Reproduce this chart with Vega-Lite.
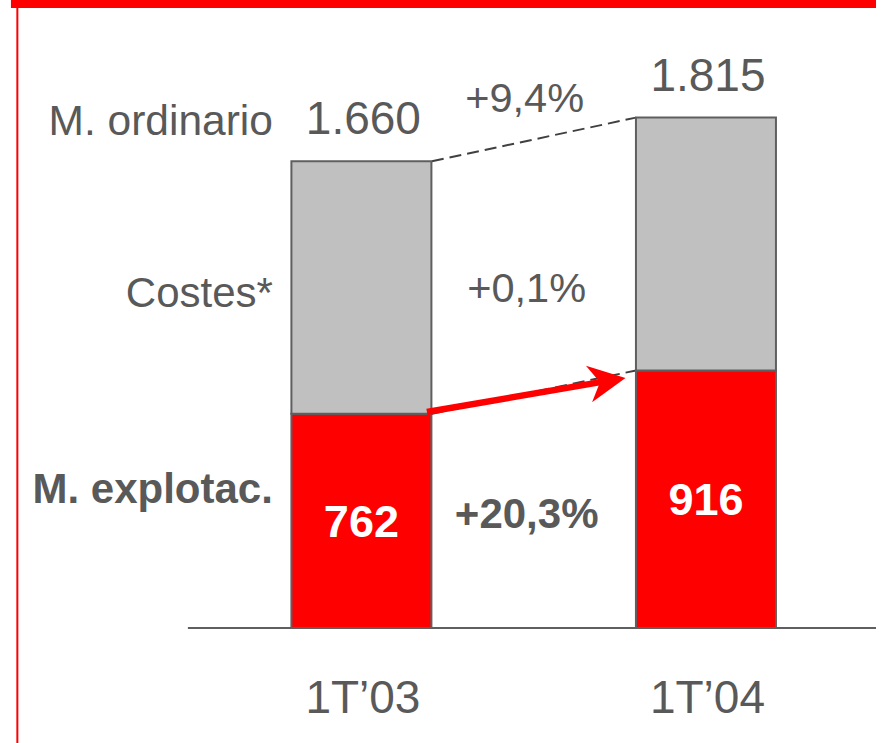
{
  "$schema": "https://vega.github.io/schema/vega-lite/v6.json",
  "width": 881,
  "height": 743,
  "autosize": {"type": "none"},
  "padding": 0,
  "background": "white",
  "config": {
    "view": {"stroke": null},
    "locale": {"number": {"decimal": ",", "thousands": ".", "grouping": [3], "currency": ["", " €"]}},
    "text": {"font": "Liberation Sans", "color": "#595959", "baseline": "alphabetic"}
  },
  "datasets": {
    "barras": [
      {"periodo": "1T’03", "pos": 1, "serie": "M. explotac.", "valor": 762},
      {"periodo": "1T’03", "pos": 1, "serie": "Costes*", "valor": 898},
      {"periodo": "1T’04", "pos": 2, "serie": "M. explotac.", "valor": 916},
      {"periodo": "1T’04", "pos": 2, "serie": "Costes*", "valor": 899}
    ],
    "totales": [
      {"periodo": "1T’03", "pos": 1, "valor": 1660},
      {"periodo": "1T’04", "pos": 2, "valor": 1815}
    ],
    "tramos": [
      {"concepto": "M. ordinario", "desde": 1660, "hasta": 1815, "var": 0.094},
      {"concepto": "Costes*", "desde": 898, "hasta": 899, "var": 0.001},
      {"concepto": "M. explotac.", "desde": 762, "hasta": 916, "var": 0.203}
    ]
  },
  "layer": [
    {
      "data": {"values": [{}]},
      "mark": {"type": "rect", "color": "#FF0000"},
      "encoding": {
        "x": {"datum": -0.0172, "type": "quantitative", "scale": {"domain": [-0.03443, 2.49355], "nice": false, "zero": false}, "axis": null},
        "x2": {"datum": 2.49355},
        "y": {"datum": 2233.3, "type": "quantitative", "scale": {"domain": [-409, 2233.3], "nice": false, "zero": false}, "axis": null},
        "y2": {"datum": 2204.8}
      }
    },
    {
      "data": {"values": [{}]},
      "mark": {"type": "rule", "color": "#FF0000", "strokeWidth": 2},
      "encoding": {
        "x": {"datum": 0.0014, "type": "quantitative", "scale": {"domain": [-0.03443, 2.49355], "nice": false, "zero": false}, "axis": null},
        "y": {"datum": 2204.8, "type": "quantitative", "scale": {"domain": [-409, 2233.3], "nice": false, "zero": false}, "axis": null},
        "y2": {"datum": -409}
      }
    },
    {
      "data": {"values": [{}]},
      "mark": {"type": "rule", "color": "#5F5F5F", "strokeWidth": 2},
      "encoding": {
        "x": {"datum": 0.4964, "type": "quantitative", "scale": {"domain": [-0.03443, 2.49355], "nice": false, "zero": false}, "axis": null},
        "x2": {"datum": 2.49355},
        "y": {"datum": 0, "type": "quantitative", "scale": {"domain": [-409, 2233.3], "nice": false, "zero": false}, "axis": null}
      }
    },
    {
      "data": {"name": "tramos"},
      "transform": [{"filter": "datum.concepto !== 'Costes*'"}],
      "mark": {"type": "rule", "color": "#404040", "strokeWidth": 2, "strokeDash": [12, 6], "xOffset": 70.5, "x2Offset": -70},
      "encoding": {
        "x": {"datum": 1, "type": "quantitative", "scale": {"domain": [-0.03443, 2.49355], "nice": false, "zero": false}, "axis": null},
        "x2": {"datum": 2},
        "y": {"field": "desde", "type": "quantitative", "scale": {"domain": [-409, 2233.3], "nice": false, "zero": false}, "axis": null},
        "y2": {"field": "hasta"}
      }
    },
    {
      "data": {"name": "barras"},
      "mark": {"type": "bar", "width": 140, "stroke": "#5F5F5F", "strokeWidth": 2, "opacity": 1},
      "encoding": {
        "x": {"field": "pos", "type": "quantitative", "scale": {"domain": [-0.03443, 2.49355], "nice": false, "zero": false}, "axis": null},
        "y": {"field": "valor", "type": "quantitative", "stack": "zero", "scale": {"domain": [-409, 2233.3], "nice": false, "zero": false}, "axis": null},
        "color": {"field": "serie", "type": "nominal", "scale": {"domain": ["M. explotac.", "Costes*"], "range": ["#FF0000", "#C0C0C0"]}, "legend": null},
        "order": {"field": "serie", "sort": "descending"}
      }
    },
    {
      "data": {"name": "tramos"},
      "transform": [{"filter": "datum.concepto === 'M. explotac.'"}],
      "mark": {"type": "rule", "color": "#FF0000", "strokeWidth": 6.5, "strokeCap": "butt", "xOffset": 65.5, "x2Offset": -104, "yOffset": -1.7, "y2Offset": 11.5},
      "encoding": {
        "x": {"datum": 1, "type": "quantitative", "scale": {"domain": [-0.03443, 2.49355], "nice": false, "zero": false}, "axis": null},
        "x2": {"datum": 2},
        "y": {"field": "desde", "type": "quantitative", "scale": {"domain": [-409, 2233.3], "nice": false, "zero": false}, "axis": null},
        "y2": {"field": "hasta"}
      }
    },
    {
      "data": {"name": "tramos"},
      "transform": [{"filter": "datum.concepto === 'M. explotac.'"}],
      "mark": {"type": "point", "shape": "M1,0L-1,-1L-0.4,0L-1,1Z", "size": 1369, "angle": -9.55, "filled": true, "color": "#FF0000", "opacity": 1, "strokeWidth": 0, "xOffset": -98.7, "yOffset": 10.6},
      "encoding": {
        "x": {"datum": 2, "type": "quantitative", "scale": {"domain": [-0.03443, 2.49355], "nice": false, "zero": false}, "axis": null},
        "y": {"field": "hasta", "type": "quantitative", "scale": {"domain": [-409, 2233.3], "nice": false, "zero": false}, "axis": null}
      }
    },
    {
      "data": {"name": "barras"},
      "mark": {"type": "text", "fontSize": 45, "fontWeight": "bold", "color": "#FFFFFF", "align": "center", "dy": 16},
      "encoding": {
        "x": {"field": "pos", "type": "quantitative", "scale": {"domain": [-0.03443, 2.49355], "nice": false, "zero": false}, "axis": null},
        "y": {"field": "valor", "type": "quantitative", "stack": "zero", "bandPosition": 0.5, "scale": {"domain": [-409, 2233.3], "nice": false, "zero": false}, "axis": null},
        "detail": {"field": "serie"},
        "order": {"field": "serie", "sort": "descending"},
        "text": {"condition": {"test": "datum.serie === 'M. explotac.'", "field": "valor", "type": "quantitative", "format": ",d"}, "value": ""}
      }
    },
    {
      "data": {"name": "totales"},
      "mark": {"type": "text", "fontSize": 46, "align": "center", "dy": -27, "dx": 2},
      "encoding": {
        "x": {"field": "pos", "type": "quantitative", "scale": {"domain": [-0.03443, 2.49355], "nice": false, "zero": false}, "axis": null},
        "y": {"field": "valor", "type": "quantitative", "scale": {"domain": [-409, 2233.3], "nice": false, "zero": false}, "axis": null},
        "text": {"field": "valor", "type": "quantitative", "format": ",d"}
      }
    },
    {
      "data": {"name": "totales"},
      "mark": {"type": "text", "fontSize": 46, "align": "center", "dy": 85, "dx": 1.5},
      "encoding": {
        "x": {"field": "pos", "type": "quantitative", "scale": {"domain": [-0.03443, 2.49355], "nice": false, "zero": false}, "axis": null},
        "y": {"datum": 0, "type": "quantitative", "scale": {"domain": [-409, 2233.3], "nice": false, "zero": false}, "axis": null},
        "text": {"field": "periodo", "type": "nominal"}
      }
    },
    {
      "data": {"name": "tramos"},
      "transform": [{"filter": "datum.concepto === 'M. ordinario'"}],
      "layer": [
        {
          "mark": {"type": "text", "fontSize": 42.5, "align": "right", "dx": -88.5, "dy": -26},
          "encoding": {
            "x": {"datum": 1, "type": "quantitative", "scale": {"domain": [-0.03443, 2.49355], "nice": false, "zero": false}, "axis": null},
            "y": {"field": "desde", "type": "quantitative", "scale": {"domain": [-409, 2233.3], "nice": false, "zero": false}, "axis": null},
            "text": {"field": "concepto", "type": "nominal"}
          }
        },
        {
          "mark": {"type": "text", "fontSize": 41.5, "align": "center", "dx": -9, "dy": -27},
          "encoding": {
            "x": {"datum": 1.5, "type": "quantitative", "scale": {"domain": [-0.03443, 2.49355], "nice": false, "zero": false}, "axis": null},
            "y": {"datum": 1737.5, "type": "quantitative", "scale": {"domain": [-409, 2233.3], "nice": false, "zero": false}, "axis": null},
            "text": {"field": "var", "type": "quantitative", "format": "+.1%"}
          }
        }
      ]
    },
    {
      "data": {"name": "tramos"},
      "transform": [{"filter": "datum.concepto === 'Costes*'"}],
      "layer": [
        {
          "mark": {"type": "text", "fontSize": 42, "align": "right", "dx": -88.5, "dy": 19.6},
          "encoding": {
            "x": {"datum": 1, "type": "quantitative", "scale": {"domain": [-0.03443, 2.49355], "nice": false, "zero": false}, "axis": null},
            "y": {"datum": 1211, "type": "quantitative", "scale": {"domain": [-409, 2233.3], "nice": false, "zero": false}, "axis": null},
            "text": {"field": "concepto", "type": "nominal"}
          }
        },
        {
          "mark": {"type": "text", "fontSize": 41.5, "align": "center", "dx": -7, "dy": 14.6},
          "encoding": {
            "x": {"datum": 1.5, "type": "quantitative", "scale": {"domain": [-0.03443, 2.49355], "nice": false, "zero": false}, "axis": null},
            "y": {"datum": 1211, "type": "quantitative", "scale": {"domain": [-409, 2233.3], "nice": false, "zero": false}, "axis": null},
            "text": {"field": "var", "type": "quantitative", "format": "+.1%"}
          }
        }
      ]
    },
    {
      "data": {"name": "tramos"},
      "transform": [{"filter": "datum.concepto === 'M. explotac.'"}],
      "layer": [
        {
          "mark": {"type": "text", "fontSize": 42, "fontWeight": "bold", "align": "right", "dx": -88.5, "dy": -17.5},
          "encoding": {
            "x": {"datum": 1, "type": "quantitative", "scale": {"domain": [-0.03443, 2.49355], "nice": false, "zero": false}, "axis": null},
            "y": {"datum": 381, "type": "quantitative", "scale": {"domain": [-409, 2233.3], "nice": false, "zero": false}, "axis": null},
            "text": {"field": "concepto", "type": "nominal"}
          }
        },
        {
          "mark": {"type": "text", "fontSize": 42, "fontWeight": "bold", "align": "center", "dx": -7, "dy": 7},
          "encoding": {
            "x": {"datum": 1.5, "type": "quantitative", "scale": {"domain": [-0.03443, 2.49355], "nice": false, "zero": false}, "axis": null},
            "y": {"datum": 381, "type": "quantitative", "scale": {"domain": [-409, 2233.3], "nice": false, "zero": false}, "axis": null},
            "text": {"field": "var", "type": "quantitative", "format": "+.1%"}
          }
        }
      ]
    }
  ]
}
